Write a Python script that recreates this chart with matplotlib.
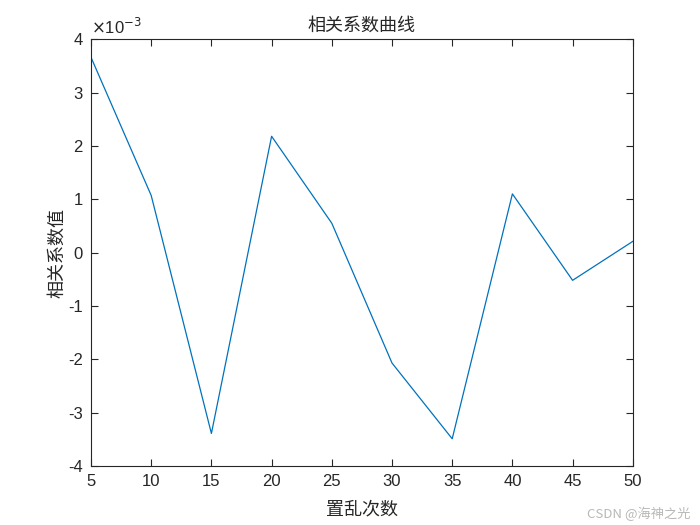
import matplotlib
matplotlib.use("Agg")
import matplotlib.pyplot as plt
from matplotlib.ticker import FuncFormatter

scramble_counts = [5, 10, 15, 20, 25, 30, 35, 40, 45, 50]
corr_values = [3.66e-3, 1.07e-3, -3.39e-3, 2.18e-3, 0.55e-3, -2.07e-3, -3.49e-3, 1.10e-3, -0.52e-3, 0.21e-3]
x_ticks = [5, 10, 15, 20, 25, 30, 35, 40, 45, 50]
y_ticks = [-4e-3, -3e-3, -2e-3, -1e-3, 0, 1e-3, 2e-3, 3e-3, 4e-3]

plt.rcParams['font.family'] = ['Liberation Sans', 'Noto Sans CJK SC', 'DejaVu Sans']
cjk = ['Noto Sans CJK SC', 'DejaVu Sans']

fig = plt.figure(figsize=(7, 5.25), dpi=100)
ax = fig.add_axes([0.13, 0.1124, 0.774, 0.813])
ax.plot(scramble_counts, corr_values, color='#0072BD', linewidth=0.9)
ax.set_xlim(5, 50)
ax.set_ylim(-4e-3, 4e-3)
ax.set_xticks(x_ticks)
ax.set_yticks(y_ticks)
ax.yaxis.set_major_formatter(FuncFormatter(lambda v, p: f"{v*1e3:g}"))
ax.tick_params(direction='in', top=True, right=True, labelsize=12, length=5,
               width=0.8, colors='#262626', pad=6)
for s in ax.spines.values():
    s.set_color('#262626')
    s.set_linewidth(0.8)
ax.set_title('相关系数曲线', family=cjk, fontsize=13, color='#262626', pad=6)
ax.set_xlabel('置乱次数', family=cjk, fontsize=13, color='#262626', labelpad=8)
ax.set_ylabel('相关系数值', family=cjk, fontsize=13, color='#262626', labelpad=1)
ax.text(0.0, 1.005, r'$\times$10$^{-3}$', transform=ax.transAxes, fontsize=12,
        color='#262626', ha='left', va='bottom')
fig.text(0.986, 0.008, 'CSDN @海神之光', family=cjk, fontsize=9.5, color='#b8b8b8',
         ha='right', va='bottom')
fig.savefig('out.png', dpi=100, facecolor='white')
